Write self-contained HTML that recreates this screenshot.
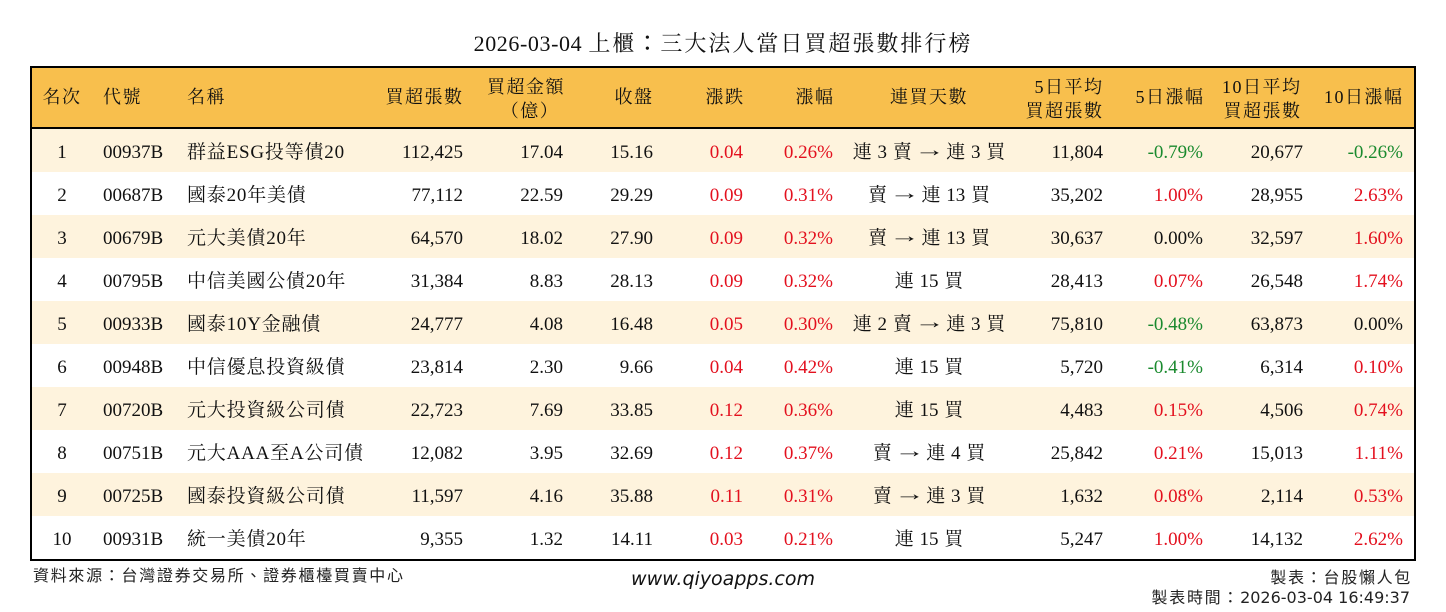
<!DOCTYPE html>
<html><head><meta charset="utf-8">
<style>
*{margin:0;padding:0;box-sizing:border-box}
body{width:1446px;height:612px;background:#fff;position:relative;overflow:hidden;font-family:"Liberation Serif","Noto Serif CJK SC",serif;color:#111}
.a{position:absolute;white-space:nowrap}
.title{left:0;width:1446px;top:27px;text-align:center;font-size:22px;line-height:30px;letter-spacing:0.6px}
.title .c{letter-spacing:2px}
.tc{font-family:"Noto Sans CJK TC",sans-serif}
.bg{position:absolute;left:32px;width:1382px}
.box{position:absolute;left:30px;top:66px;width:1386px;height:495px;border:2px solid #000}
.h{font-size:18px;letter-spacing:1.5px;top:68px;line-height:59px}
.h2{font-size:18px;letter-spacing:1.5px;top:74.5px;line-height:24px}
.r{position:absolute;left:0;width:1446px;height:43px;font-size:19px;line-height:43px}
.r span{position:absolute;top:0;white-space:nowrap}
.r span i{font-style:normal;display:inline-block;transform:translateY(-2px) scaleX(1.6);margin:0 2px}
.c0{left:12px;width:100px;text-align:center}
.c1{left:103px}
.c2{left:187px;letter-spacing:.8px}
.c3{right:983px}
.c4{right:883px}
.c5{right:793px}
.c6{right:703px}
.c7{right:613px}
.c8{left:829px;width:200px;text-align:center;word-spacing:1px}
.c9{right:343px}
.c10{right:243px}
.c11{right:143px}
.c12{right:43px}
.rd{color:#E3101E}
.gn{color:#1A8A2E}
.foot{font-family:"Noto Sans CJK TC","Noto Sans CJK SC",sans-serif;font-size:16px;line-height:20px;letter-spacing:1.7px;color:#222}
.url{font-family:"DejaVu Sans",sans-serif;font-style:italic;font-size:19px;line-height:24px;left:0;width:1446px;text-align:center;top:567px;color:#111}
</style></head><body>

<div class="a title">2026-03-04 <span class="c">上櫃<span class="tc">：</span>三大法人當日買超張數排行榜</span></div>

<div class="bg" style="top:68px;height:59px;background:#F8BF4D"></div>
<div class="bg" style="top:127px;height:2px;background:#000"></div>
<div class="bg" style="top:129px;height:43px;background:#FEF3DD"></div>
<div class="bg" style="top:215px;height:43px;background:#FEF3DD"></div>
<div class="bg" style="top:301px;height:43px;background:#FEF3DD"></div>
<div class="bg" style="top:387px;height:43px;background:#FEF3DD"></div>
<div class="bg" style="top:473px;height:43px;background:#FEF3DD"></div>

<!-- header -->
<div class="a h" style="left:12px;width:100px;text-align:center">名次</div>
<div class="a h" style="left:103px">代號</div>
<div class="a h" style="left:187px">名稱</div>
<div class="a h" style="right:982.5px">買超張數</div>
<div class="a h2" style="left:480px;width:92px;text-align:center">買超金額<br><span style="padding-left:8px">（億）</span></div>
<div class="a h" style="right:792.5px">收盤</div>
<div class="a h" style="right:701.5px">漲跌</div>
<div class="a h" style="right:611.5px">漲幅</div>
<div class="a h" style="left:829px;width:200px;text-align:center">連買天數</div>
<div class="a h2" style="right:342.5px;text-align:right">5日平均<br>買超張數</div>
<div class="a h" style="right:241.5px">5日漲幅</div>
<div class="a h2" style="right:144.5px;text-align:right">10日平均<br>買超張數</div>
<div class="a h" style="right:42.5px">10日漲幅</div>

<!-- rows -->
<div class="r" style="top:131px"><span class="c0">1</span><span class="c1">00937B</span><span class="c2">群益ESG投等債20</span><span class="c3">112,425</span><span class="c4">17.04</span><span class="c5">15.16</span><span class="c6 rd">0.04</span><span class="c7 rd">0.26%</span><span class="c8">連 3 賣 <i>→</i> 連 3 買</span><span class="c9">11,804</span><span class="c10 gn">-0.79%</span><span class="c11">20,677</span><span class="c12 gn">-0.26%</span></div>
<div class="r" style="top:174px"><span class="c0">2</span><span class="c1">00687B</span><span class="c2">國泰20年美債</span><span class="c3">77,112</span><span class="c4">22.59</span><span class="c5">29.29</span><span class="c6 rd">0.09</span><span class="c7 rd">0.31%</span><span class="c8">賣 <i>→</i> 連 13 買</span><span class="c9">35,202</span><span class="c10 rd">1.00%</span><span class="c11">28,955</span><span class="c12 rd">2.63%</span></div>
<div class="r" style="top:217px"><span class="c0">3</span><span class="c1">00679B</span><span class="c2">元大美債20年</span><span class="c3">64,570</span><span class="c4">18.02</span><span class="c5">27.90</span><span class="c6 rd">0.09</span><span class="c7 rd">0.32%</span><span class="c8">賣 <i>→</i> 連 13 買</span><span class="c9">30,637</span><span class="c10">0.00%</span><span class="c11">32,597</span><span class="c12 rd">1.60%</span></div>
<div class="r" style="top:260px"><span class="c0">4</span><span class="c1">00795B</span><span class="c2">中信美國公債20年</span><span class="c3">31,384</span><span class="c4">8.83</span><span class="c5">28.13</span><span class="c6 rd">0.09</span><span class="c7 rd">0.32%</span><span class="c8">連 15 買</span><span class="c9">28,413</span><span class="c10 rd">0.07%</span><span class="c11">26,548</span><span class="c12 rd">1.74%</span></div>
<div class="r" style="top:303px"><span class="c0">5</span><span class="c1">00933B</span><span class="c2">國泰10Y金融債</span><span class="c3">24,777</span><span class="c4">4.08</span><span class="c5">16.48</span><span class="c6 rd">0.05</span><span class="c7 rd">0.30%</span><span class="c8">連 2 賣 <i>→</i> 連 3 買</span><span class="c9">75,810</span><span class="c10 gn">-0.48%</span><span class="c11">63,873</span><span class="c12">0.00%</span></div>
<div class="r" style="top:346px"><span class="c0">6</span><span class="c1">00948B</span><span class="c2">中信優息投資級債</span><span class="c3">23,814</span><span class="c4">2.30</span><span class="c5">9.66</span><span class="c6 rd">0.04</span><span class="c7 rd">0.42%</span><span class="c8">連 15 買</span><span class="c9">5,720</span><span class="c10 gn">-0.41%</span><span class="c11">6,314</span><span class="c12 rd">0.10%</span></div>
<div class="r" style="top:389px"><span class="c0">7</span><span class="c1">00720B</span><span class="c2">元大投資級公司債</span><span class="c3">22,723</span><span class="c4">7.69</span><span class="c5">33.85</span><span class="c6 rd">0.12</span><span class="c7 rd">0.36%</span><span class="c8">連 15 買</span><span class="c9">4,483</span><span class="c10 rd">0.15%</span><span class="c11">4,506</span><span class="c12 rd">0.74%</span></div>
<div class="r" style="top:432px"><span class="c0">8</span><span class="c1">00751B</span><span class="c2">元大AAA至A公司債</span><span class="c3">12,082</span><span class="c4">3.95</span><span class="c5">32.69</span><span class="c6 rd">0.12</span><span class="c7 rd">0.37%</span><span class="c8">賣 <i>→</i> 連 4 買</span><span class="c9">25,842</span><span class="c10 rd">0.21%</span><span class="c11">15,013</span><span class="c12 rd">1.11%</span></div>
<div class="r" style="top:475px"><span class="c0">9</span><span class="c1">00725B</span><span class="c2">國泰投資級公司債</span><span class="c3">11,597</span><span class="c4">4.16</span><span class="c5">35.88</span><span class="c6 rd">0.11</span><span class="c7 rd">0.31%</span><span class="c8">賣 <i>→</i> 連 3 買</span><span class="c9">1,632</span><span class="c10 rd">0.08%</span><span class="c11">2,114</span><span class="c12 rd">0.53%</span></div>
<div class="r" style="top:518px"><span class="c0">10</span><span class="c1">00931B</span><span class="c2">統一美債20年</span><span class="c3">9,355</span><span class="c4">1.32</span><span class="c5">14.11</span><span class="c6 rd">0.03</span><span class="c7 rd">0.21%</span><span class="c8">連 15 買</span><span class="c9">5,247</span><span class="c10 rd">1.00%</span><span class="c11">14,132</span><span class="c12 rd">2.62%</span></div>

<div class="box"></div>

<div class="a foot" style="left:33px;top:564px">資料來源：台灣證券交易所、證券櫃檯買賣中心</div>
<div class="a url">www.qiyoapps.com</div>
<div class="a foot" style="right:34px;top:566px">製表：台股懶人包</div>
<div class="a foot" style="right:36px;top:588px;font-family:'DejaVu Sans','Noto Sans CJK TC',sans-serif">製表時間：<span style="letter-spacing:0">2026-03-04 16:49:37</span></div>

</body></html>
